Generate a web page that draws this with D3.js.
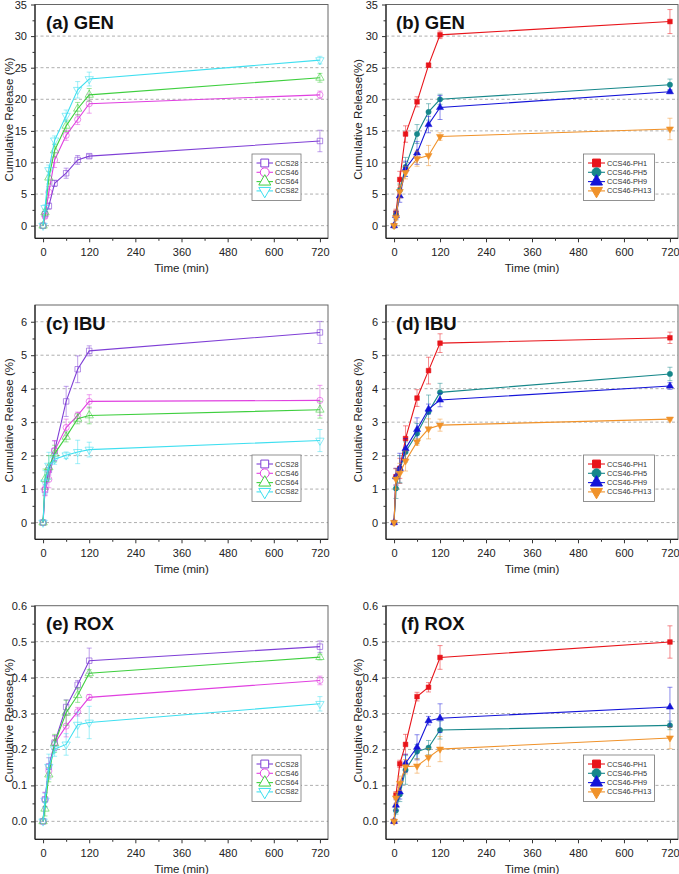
<!DOCTYPE html>
<html><head><meta charset="utf-8">
<script src="https://cdn.jsdelivr.net/npm/d3@7"></script>
<style>body{margin:0;background:#fff}svg{display:block;font-family:"Liberation Sans",Arial,sans-serif}</style>
</head><body><svg id="c" width="679" height="874"></svg>
<script>
// ---------- DATA ----------
const times = [0, 5, 15, 30, 60, 90, 120, 720];
const ccsNames = ["CCS28", "CCS46", "CCS64", "CCS82"];
const phNames = ["CCS46-PH1", "CCS46-PH5", "CCS46-PH9", "CCS46-PH13"];
const xTicks = [0, 120, 240, 360, 480, 600, 720];

// (a) GEN, CCS series
const genCCS = [
  [0, 1.8, 3.1, 6.7, 8.3, 10.4, 11.0, 13.4],
  [0, 1.5, 5.3, 10.4, 14.3, 16.8, 19.3, 20.7],
  [0, 2.1, 7.6, 11.9, 15.8, 18.5, 20.7, 23.4],
  [0, 2.8, 8.8, 13.5, 17.4, 21.5, 23.2, 26.2]
];
const genCCSErr = [
  [0, 0.4, 0.5, 0.5, 0.8, 0.7, 0.3, 1.7],
  [0, 0.4, 0.9, 1.2, 0.8, 0.8, 1.5, 0.6],
  [0, 0.5, 1.0, 1.0, 0.9, 1.0, 1.0, 0.7],
  [0, 0.5, 0.8, 0.7, 0.9, 1.3, 1.1, 0.6]
];
// (b) GEN, pH series
const genPH = [
  [0, 2.0, 7.3, 14.5, 19.6, 25.4, 30.2, 32.3],
  [0, 1.7, 5.6, 9.3, 14.5, 18.0, 20.0, 22.3],
  [0, 1.6, 4.7, 9.0, 11.5, 16.0, 18.7, 21.2],
  [0, 1.3, 5.4, 8.4, 10.6, 11.1, 14.1, 15.3]
];
const genPHErr = [
  [0, 0.6, 1.3, 1.3, 0.8, 0.3, 0.6, 1.9],
  [0, 0.6, 1.0, 1.5, 1.5, 1.3, 0.8, 0.9],
  [0, 0.6, 1.0, 1.2, 1.8, 1.3, 1.9, 0.3],
  [0, 0.5, 1.0, 1.0, 1.2, 1.6, 0.6, 1.7]
];
// (c) IBU, CCS series
const ibuCCS = [
  [0, 0.97, 1.57, 2.14, 3.62, 4.58, 5.13, 5.68],
  [0, 1.0, 1.29, 2.15, 2.84, 3.2, 3.62, 3.65],
  [0, 1.3, 1.65, 2.06, 2.56, 3.1, 3.2, 3.37],
  [0, 1.2, 1.7, 1.89, 2.01, 2.11, 2.18, 2.45]
];
const ibuCCSErr = [
  [0, 0.15, 0.15, 0.3, 0.45, 0.4, 0.15, 0.33],
  [0, 0.2, 0.25, 0.3, 0.25, 0.1, 0.2, 0.45],
  [0, 0.3, 0.35, 0.25, 0.15, 0.15, 0.25, 0.25],
  [0, 0.35, 0.4, 0.15, 0.1, 0.35, 0.22, 0.33]
];
// (d) IBU, pH series
const ibuPH = [
  [0, 1.37, 1.62, 2.51, 3.72, 4.54, 5.36, 5.52],
  [0, 1.02, 1.6, 2.11, 2.66, 3.31, 3.89, 4.44],
  [0, 1.37, 1.62, 2.21, 2.78, 3.39, 3.66, 4.08],
  [0, 1.3, 1.47, 1.84, 2.41, 2.8, 2.91, 3.09]
];
const ibuPHErr = [
  [0, 0.25, 0.3, 0.38, 0.25, 0.4, 0.28, 0.17],
  [0, 0.3, 0.4, 0.3, 0.3, 0.5, 0.27, 0.2],
  [0, 0.25, 0.45, 0.3, 0.35, 0.15, 0.2, 0.1],
  [0, 0.3, 0.3, 0.3, 0.1, 0.3, 0.18, 0.05]
];
// (e) ROX, CCS series
const roxCCS = [
  [0, 0.061, 0.152, 0.219, 0.318, 0.380, 0.447, 0.486],
  [0, 0.06, 0.14, 0.217, 0.265, 0.305, 0.345, 0.392],
  [0, 0.035, 0.13, 0.217, 0.302, 0.351, 0.412, 0.457],
  [0, 0.058, 0.152, 0.201, 0.214, 0.269, 0.275, 0.327]
];
const roxCCSErr = [
  [0, 0.02, 0.025, 0.02, 0.02, 0.012, 0.035, 0.016],
  [0, 0.02, 0.02, 0.02, 0.03, 0.012, 0.008, 0.012],
  [0, 0.02, 0.02, 0.025, 0.035, 0.02, 0.01, 0.008],
  [0, 0.02, 0.035, 0.02, 0.03, 0.035, 0.045, 0.02]
];
// (f) ROX, pH series
const roxPH = [
  [0, 0.073, 0.160, 0.214, 0.347, 0.373, 0.456, 0.499],
  [0, 0.03, 0.075, 0.143, 0.194, 0.205, 0.254, 0.267],
  [0, 0.045, 0.082, 0.162, 0.206, 0.280, 0.287, 0.318],
  [0, 0.065, 0.106, 0.152, 0.154, 0.178, 0.201, 0.232]
];
const roxPHErr = [
  [0, 0.01, 0.01, 0.028, 0.012, 0.013, 0.033, 0.045],
  [0, 0.01, 0.02, 0.04, 0.02, 0.02, 0.025, 0.012],
  [0, 0.015, 0.02, 0.025, 0.035, 0.012, 0.04, 0.055],
  [0, 0.015, 0.02, 0.02, 0.02, 0.025, 0.035, 0.03]
];

// ---------- STYLE ----------
const ccsColors = ["#7f3fd6", "#e040e0", "#3fcf3f", "#3fdff0"];
const phColors = ["#e8141a", "#16878a", "#1414d8", "#f0922a"];
const symTypes = [d3.symbolSquare, d3.symbolCircle, d3.symbolTriangle, d3.symbolTriangle];
const symRot = [0, 0, 0, 180];

const svg = d3.select("#c");
const cols = [{x0: 35, x1: 328, ylabX: 9}, {x0: 386, x1: 678, ylabX: 358}];
const rows = [{y0: 238.3, y1: 4.5}, {y0: 539.3, y1: 305}, {y0: 839.3, y1: 605.7}];

const panels = [
  {title: "(a) GEN", col: 0, row: 0, data: genCCS, err: genCCSErr, names: ccsNames, colors: ccsColors, filled: false,
   ydom: [-2, 35], yt: d3.range(0, 36, 5), ym: d3.range(2.5, 35, 5), fmt: d3.format("d"), ylab: "Cumulative Release (%)"},
  {title: "(b) GEN", col: 1, row: 0, data: genPH, err: genPHErr, names: phNames, colors: phColors, filled: true,
   ydom: [-2, 35], yt: d3.range(0, 36, 5), ym: d3.range(2.5, 35, 5), fmt: d3.format("d"), ylab: "Cumulative Release(%)"},
  {title: "(c) IBU", col: 0, row: 1, data: ibuCCS, err: ibuCCSErr, names: ccsNames, colors: ccsColors, filled: false,
   ydom: [-0.5, 6.5], yt: d3.range(0, 7, 1), ym: d3.range(0.5, 6.5, 1), fmt: d3.format("d"), ylab: "Cumulative Release (%)"},
  {title: "(d) IBU", col: 1, row: 1, data: ibuPH, err: ibuPHErr, names: phNames, colors: phColors, filled: true,
   ydom: [-0.5, 6.5], yt: d3.range(0, 7, 1), ym: d3.range(0.5, 6.5, 1), fmt: d3.format("d"), ylab: "Cumulative Release (%)"},
  {title: "(e) ROX", col: 0, row: 2, data: roxCCS, err: roxCCSErr, names: ccsNames, colors: ccsColors, filled: false,
   ydom: [-0.05, 0.6], yt: [0, 0.1, 0.2, 0.3, 0.4, 0.5, 0.6], ym: [0.05, 0.15, 0.25, 0.35, 0.45, 0.55], fmt: d3.format(".1f"), ylab: "Cumulative Release (%)"},
  {title: "(f) ROX", col: 1, row: 2, data: roxPH, err: roxPHErr, names: phNames, colors: phColors, filled: true,
   ydom: [-0.05, 0.6], yt: [0, 0.1, 0.2, 0.3, 0.4, 0.5, 0.6], ym: [0.05, 0.15, 0.25, 0.35, 0.45, 0.55], fmt: d3.format(".1f"), ylab: "Cumulative Release (%)"}
];

panels.forEach(p => {
  const c = cols[p.col], r = rows[p.row];
  const x = d3.scaleLinear().domain([-21, 741]).range([c.x0, c.x1]);
  const y = d3.scaleLinear().domain(p.ydom).range([r.y0, r.y1]);
  const g = svg.append("g");

  // gridlines
  g.selectAll(".grid").data(p.yt.filter(v => y(v) > r.y1 + 1)).enter().append("line")
    .attr("x1", c.x0).attr("x2", c.x1).attr("y1", d => y(d)).attr("y2", d => y(d))
    .attr("stroke", "#9a9a9a").attr("stroke-width", 0.8).attr("stroke-dasharray", "3,2.5");

  // frame
  g.append("rect").attr("x", c.x0).attr("y", r.y1).attr("width", c.x1 - c.x0).attr("height", r.y0 - r.y1)
    .attr("fill", "none").attr("stroke", "#666").attr("stroke-width", 1);

  // axes
  const xa = g.append("g").attr("transform", `translate(0,${r.y0})`)
    .call(d3.axisBottom(x).tickValues(xTicks).tickSize(4).tickFormat(d3.format("d")));
  g.append("g").attr("transform", `translate(0,${r.y0})`)
    .call(d3.axisBottom(x).tickValues(d3.range(60, 720, 120)).tickSize(2.5).tickFormat(""))
    .call(s => s.select(".domain").remove());
  const ya = g.append("g").attr("transform", `translate(${c.x0},0)`)
    .call(d3.axisLeft(y).tickValues(p.yt).tickSize(4).tickFormat(p.fmt));
  g.append("g").attr("transform", `translate(${c.x0},0)`)
    .call(d3.axisLeft(y).tickValues(p.ym).tickSize(2.5).tickFormat(""))
    .call(s => s.select(".domain").remove());
  [xa, ya].forEach(a => {
    a.select(".domain").attr("stroke", "#222").attr("stroke-width", 1.2).attr("d",
      a === xa ? `M${c.x0},0H${c.x1}` : `M0,${r.y0}V${r.y1}`);
    a.selectAll("text").attr("font-size", 11).attr("fill", "#222")
      .attr("font-family", '"Liberation Sans",Arial,sans-serif');
  });
  g.selectAll(".tick line").attr("stroke", "#333");
  xa.selectAll("text").attr("dy", "0.95em");
  ya.selectAll("text").attr("dx", "-1px");

  // axis labels
  g.append("text").attr("x", (x(0) + x(720)) / 2).attr("y", r.y0 + 33.5).attr("text-anchor", "middle")
    .attr("font-size", 11.5).attr("fill", "#222").text("Time (min)");
  g.append("text").attr("transform", `translate(${c.ylabX},${(r.y0 + r.y1) / 2 - 2}) rotate(-90)`)
    .attr("text-anchor", "middle").attr("dominant-baseline", "central")
    .attr("font-size", 11.5).attr("fill", "#222").text(p.ylab);

  // title
  g.append("text").attr("x", p.col === 0 ? c.x0 + 11 : c.x0 + 10 + (p.row === 2 ? 5 : 0))
    .attr("y", r.y1 + 24.5).attr("font-size", 18.5).attr("font-weight", "bold").attr("fill", "#111").text(p.title);

  const sym = (i, size) => d3.symbol().type(symTypes[i]).size(size)();

  // series
  p.data.forEach((vals, i) => {
    const col = p.colors[i];
    const pts = times.map((t, k) => ({t, v: vals[k], e: p.err[i][k]}));
    const sg = g.append("g");
    // error bars
    pts.filter(d => d.e > 0).forEach(d => {
      const eg = sg.append("g").attr("stroke", col).attr("stroke-opacity", 0.55).attr("stroke-width", 0.9);
      eg.append("line").attr("x1", x(d.t)).attr("x2", x(d.t)).attr("y1", y(d.v - d.e)).attr("y2", y(d.v + d.e));
      eg.append("line").attr("x1", x(d.t) - 2.5).attr("x2", x(d.t) + 2.5).attr("y1", y(d.v + d.e)).attr("y2", y(d.v + d.e));
      eg.append("line").attr("x1", x(d.t) - 2.5).attr("x2", x(d.t) + 2.5).attr("y1", y(d.v - d.e)).attr("y2", y(d.v - d.e));
    });
    sg.append("path").datum(pts).attr("fill", "none").attr("stroke", col).attr("stroke-width", 1.1)
      .attr("d", d3.line().x(d => x(d.t)).y(d => y(d.v)));
    sg.selectAll(".m").data(pts).enter().append("path")
      .attr("transform", d => `translate(${x(d.t)},${y(d.v)}) rotate(${symRot[i]})`)
      .attr("d", sym(i, p.filled ? 22 : 30))
      .attr("fill", p.filled ? col : "none")
      .attr("stroke", col).attr("stroke-opacity", p.filled ? 1 : 0.65).attr("stroke-width", p.filled ? 0.5 : 0.9);
  });

  // legend
  const lw = p.filled ? 71 : 49, lh = 46.5;
  const lx = p.filled ? c.x1 - 94.5 : c.x1 - 76;
  const ly = r.y0 - 84.3;
  const lg = g.append("g").attr("transform", `translate(${lx},${ly})`);
  lg.append("rect").attr("width", lw).attr("height", lh).attr("fill", "#fff").attr("stroke", "#777").attr("stroke-width", 0.8);
  p.names.forEach((nm, i) => {
    const yy = 9 + i * 9.3;
    const col = p.colors[i];
    const l0 = 4.5, l1 = p.filled ? 21.5 : 21;
    lg.append("line").attr("x1", l0).attr("x2", l1).attr("y1", yy).attr("y2", yy).attr("stroke", col).attr("stroke-width", 1.1);
    lg.append("path").attr("transform", `translate(${(l0 + l1) / 2},${yy}) rotate(${symRot[i]})`)
      .attr("d", sym(i, 62)).attr("fill", p.filled ? col : "#fff").attr("stroke", col).attr("stroke-width", 1);
    lg.append("text").attr("x", l1 + 2).attr("y", yy).attr("dominant-baseline", "central")
      .attr("font-size", 7.3).attr("fill", "#333").text(nm);
  });
});
</script></body></html>
